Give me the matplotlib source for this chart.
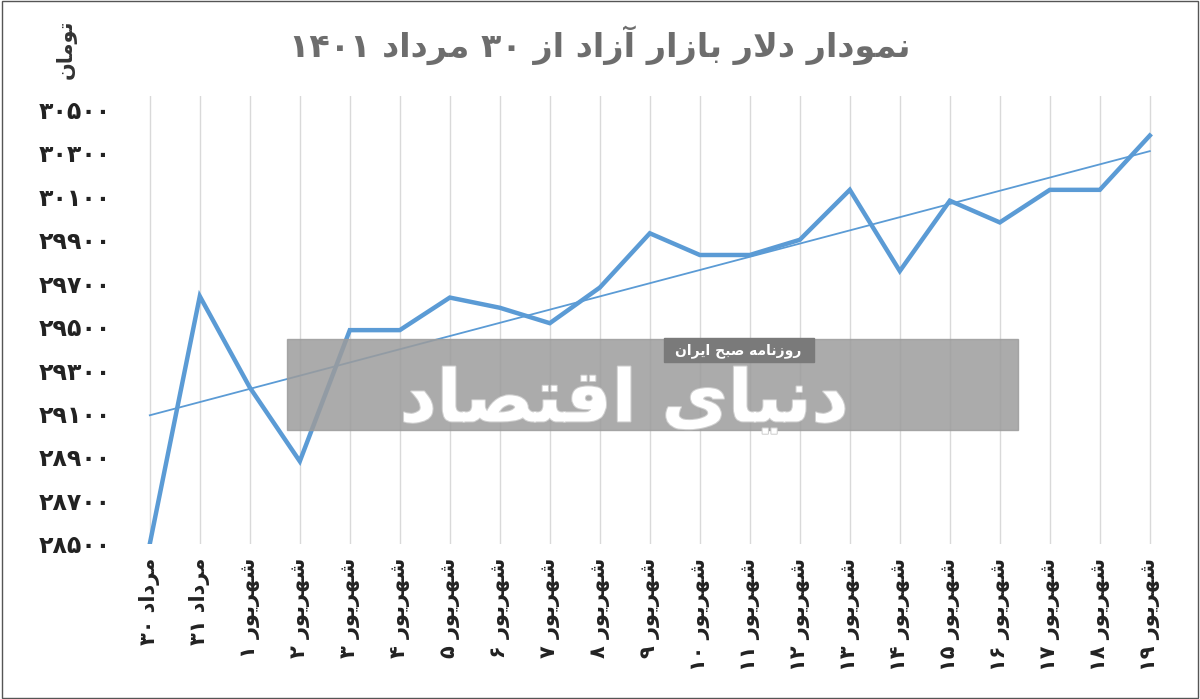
import numpy as np
import matplotlib.pyplot as plt
import matplotlib.patheffects as pe
from matplotlib.patches import Rectangle

# contextual forms: isolated, final, initial, medial (None for non-left-joining)
FORMS = {
    'ا': (0xFE8D, 0xFE8E, None, None), 'آ': (0xFE81, 0xFE82, None, None),
    'ب': (0xFE8F, 0xFE90, 0xFE91, 0xFE92), 'ت': (0xFE95, 0xFE96, 0xFE97, 0xFE98),
    'ح': (0xFEA1, 0xFEA2, 0xFEA3, 0xFEA4), 'د': (0xFEA9, 0xFEAA, None, None),
    'ر': (0xFEAD, 0xFEAE, None, None), 'ز': (0xFEAF, 0xFEB0, None, None),
    'س': (0xFEB1, 0xFEB2, 0xFEB3, 0xFEB4), 'ش': (0xFEB5, 0xFEB6, 0xFEB7, 0xFEB8),
    'ص': (0xFEB9, 0xFEBA, 0xFEBB, 0xFEBC), 'ع': (0xFEC9, 0xFECA, 0xFECB, 0xFECC),
    'ف': (0xFED1, 0xFED2, 0xFED3, 0xFED4), 'ق': (0xFED5, 0xFED6, 0xFED7, 0xFED8),
    'ل': (0xFEDD, 0xFEDE, 0xFEDF, 0xFEE0), 'م': (0xFEE1, 0xFEE2, 0xFEE3, 0xFEE4),
    'ن': (0xFEE5, 0xFEE6, 0xFEE7, 0xFEE8), 'ه': (0xFEE9, 0xFEEA, 0xFEEB, 0xFEEC),
    'و': (0xFEED, 0xFEEE, None, None), 'ی': (0xFEEF, 0xFEF0, 0xFEF3, 0xFEF4),
}


def shape_word(w):
    if all('\u06f0' <= c <= '\u06f9' for c in w):
        return w
    w = w.replace('لا', '\uFEFB')
    out = []
    for i, c in enumerate(w):
        if c == '\uFEFB':
            prev = w[i - 1] if i > 0 else None
            joins_prev = prev in FORMS and FORMS[prev][2] is not None
            out.append('\uFEFC' if joins_prev else '\uFEFB')
            continue
        if c not in FORMS:
            out.append(c)
            continue
        prev = w[i - 1] if i > 0 else None
        nxt = w[i + 1] if i + 1 < len(w) else None
        jp = prev in FORMS and FORMS[prev][2] is not None
        jn = FORMS[c][2] is not None and (nxt in FORMS or nxt == '\uFEFB')
        f = FORMS[c]
        if jp and jn:
            code = f[3]
        elif jp:
            code = f[1]
        elif jn:
            code = f[2]
        else:
            code = f[0]
        out.append(chr(code))
    return ''.join(reversed(out))


def fa(s):
    return ' '.join(shape_word(w) for w in reversed(s.split(' ')))


def fa_num(n):
    return str(n).translate(str.maketrans('0123456789', '۰۱۲۳۴۵۶۷۸۹'))


dates = ['مرداد ۳۰', 'مرداد ۳۱'] + ['شهریور ' + fa_num(i) for i in range(1, 20)]
prices = [28500, 29640, 29220, 28880, 29484, 29484, 29634, 29587, 29516, 29680, 29930,
          29830, 29830, 29900, 30130, 29756, 30080, 29980, 30130, 30130, 30380]
yticks = list(range(28500, 30501, 200))

blue = '#5b9bd5'
fig = plt.figure(figsize=(12, 6.99), dpi=100)
ax = fig.add_axes([0.104, 0.222, 0.875, 0.64])
x = np.arange(len(prices))
ax.plot(x, prices, color=blue, lw=3.2, zorder=4, solid_joinstyle='miter')
k, b = np.polyfit(x, prices, 1)
ax.plot(x, k * x + b, color=blue, lw=1.3, zorder=4)

ax.set_xlim(-0.5, len(prices) - 0.5)
ax.set_ylim(28500, 30560)
ax.set_xticks(x)
ax.set_xticklabels([fa(d) for d in dates], rotation=90, fontsize=15, fontweight='bold', color='#222')
ax.set_yticks(yticks)
ax.set_yticklabels([fa_num(v) for v in yticks], fontsize=17, fontweight='bold', color='#222')
ax.tick_params(length=0, pad=10)
ax.grid(axis='x', color='#d9d9d9', lw=1)
for s in ax.spines.values():
    s.set_visible(False)

fig.text(0.5, 0.935, fa('نمودار دلار بازار آزاد از ۳۰ مرداد ۱۴۰۱'), ha='center', va='center',
         fontsize=24, fontweight='bold', color='#6d6d6d')
fig.text(0.055, 0.93, fa('تومان'), rotation=90, ha='center', va='center', fontsize=15,
         fontweight='bold', color='#333')

# watermark
fig.patches.append(Rectangle((0.239, 0.385), 0.609, 0.130, transform=fig.transFigure,
                             color='#9c9c9c', alpha=0.85, zorder=2))
fig.patches.append(Rectangle((0.553, 0.482), 0.125, 0.035, transform=fig.transFigure,
                             color='#7a7a7a', zorder=3))
fig.text(0.615, 0.499, fa('روزنامه صبح ایران'), ha='center', va='center', fontsize=10,
         color='white', fontweight='bold', zorder=5)
fig.text(0.52, 0.425, fa('دنیای اقتصاد'), ha='center', va='center', fontsize=52,
         color='white', fontweight='bold', zorder=5,
         path_effects=[pe.withStroke(linewidth=1.5, foreground='#cfcfcf')])

fig.patches.append(Rectangle((0.002, 0.002), 0.996, 0.996, transform=fig.transFigure,
                             fill=False, ec='#555', lw=1))
fig.savefig('out.png', dpi=100)
